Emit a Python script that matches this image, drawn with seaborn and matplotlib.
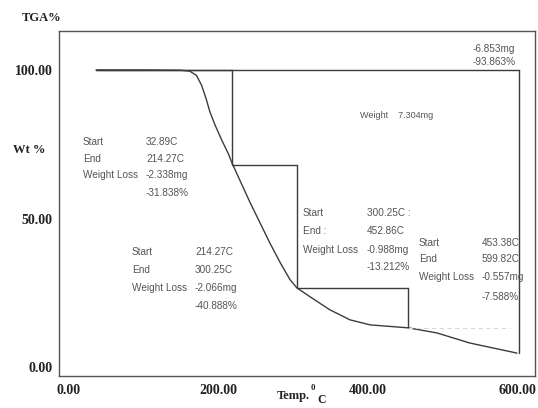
import numpy as np
import pandas as pd
import matplotlib
matplotlib.use("Agg")
import matplotlib.pyplot as plt
import seaborn as sns

# ---- data ----
temp = [37, 100, 150, 162, 171, 178, 184, 189, 196, 205, 214, 218, 225, 229, 243, 256,
        269, 283, 296, 305, 323, 349, 376, 403, 454, 492, 536, 599]
weight = [100, 100, 99.9, 99.6, 98.2, 94.8, 90.3, 85.9, 81.4, 76.3, 71.6, 69.0, 65.1, 62.9,
          55.2, 48.5, 41.8, 35.1, 29.4, 26.7, 23.6, 19.3, 15.9, 14.2, 13.2, 11.5, 8.1, 4.7]

# step analysis lines (start T, end T, start wt, end wt)
step_start_t = [37, 218, 305, 454]
step_end_t = [218, 305, 454, 602]
step_start_wt = [100, 67.9, 26.6, 13.2]
step_end_wt = [67.9, 26.6, 13.2, 4.7]
total_start_t, total_end_t = 37, 602
total_start_wt, total_end_wt = 100, 4.7

x_ticks = [0, 200, 400, 600]
x_ticklabels = ["0.00", "200.00", "400.00", "600.00"]
y_ticks = [0, 50, 100]
y_ticklabels = ["0.00", "50.00", "100.00"]

step_labels = [
    ["Start", "End", "Weight Loss"],
    ["Start", "End", "Weight Loss"],
    ["Start", "End :", "Weight Loss"],
    ["Start", "End", "Weight Loss"],
]
step_values = [
    ["32.89C", "214.27C", "-2.338mg", "-31.838%"],
    ["214.27C", "300.25C", "-2.066mg", "-40.888%"],
    ["300.25C :", "452.86C", "-0.988mg", "-13.212%"],
    ["453.38C", "599.82C", "-0.557mg", "-7.588%"],
]
total_texts = ["-6.853mg", "-93.863%"]
sample_text = "Weight    7.304mg"

# ---- plotting ----
sns.set_style("white")
W, H = 538, 408
fig = plt.figure(figsize=(W / 100, H / 100), dpi=100)
ax = fig.add_axes([59.3 / W, 1 - 375.7 / H, (535 - 59.3) / W, (375.7 - 31) / H])

line_c = "#3c3c3c"
df = pd.DataFrame({"temp": temp, "weight": weight})
sns.lineplot(data=df, x="temp", y="weight", ax=ax, color=line_c, lw=1.0, sort=False)

# step lines
for i in range(len(step_start_t)):
    if i < 3:
        ax.plot([step_start_t[i], step_end_t[i]], [step_start_wt[i], step_start_wt[i]],
                color=line_c, lw=1.0)
        ax.plot([step_end_t[i], step_end_t[i]], [step_start_wt[i], step_end_wt[i]],
                color=line_c, lw=1.0)
    else:
        ax.plot([step_start_t[i], step_end_t[i] - 12], [step_start_wt[i], step_start_wt[i]],
                color="#d8d8d8", lw=0.8, ls=(0, (4, 3)))
# total
ax.plot([total_start_t, total_end_t], [total_start_wt, total_start_wt], color=line_c, lw=1.0)
ax.plot([total_end_t, total_end_t], [total_start_wt, total_end_wt], color=line_c, lw=1.0)

ax.set_xlim(-12, 623)
ax.set_ylim(-2.9, 113.1)
ax.set_xlabel("")
ax.set_ylabel("")

serif = ["Liberation Serif", "DejaVu Serif"]
ax.set_xticks(x_ticks)
ax.set_xticklabels(x_ticklabels, fontfamily=serif, fontweight="bold", fontsize=10, color="#222222")
ax.set_yticks(y_ticks)
ax.set_yticklabels(y_ticklabels, fontfamily=serif, fontweight="bold", fontsize=10, color="#222222")
ax.tick_params(axis="x", direction="in", length=5, width=0.8, color="#444444", pad=6)
ax.tick_params(axis="y", direction="out", length=4, width=0.8, color="#444444", pad=1)
for s in ax.spines.values():
    s.set_visible(True)
    s.set_color("#555555")
    s.set_linewidth(1.0)

def fpos(x, y):
    return x / W, 1 - y / H

# axis titles
fig.text(*fpos(22, 18), "TGA%", fontfamily=serif, fontweight="bold", fontsize=9,
         color="#222222", va="center", ha="left")
fig.text(*fpos(13, 150), "Wt %", fontfamily=serif, fontweight="bold", fontsize=9,
         color="#222222", va="center", ha="left")
fig.text(*fpos(277, 396), "Temp.", fontfamily=serif, fontweight="bold", fontsize=9,
         color="#222222", va="center", ha="left")
fig.text(*fpos(311, 388), "0", fontfamily=serif, fontweight="bold", fontsize=6.5,
         color="#222222", va="center", ha="left")
fig.text(*fpos(317, 400), "C", fontfamily=serif, fontweight="bold", fontsize=8.5,
         color="#222222", va="center", ha="left")

# annotation blocks
sans = ["Liberation Sans", "DejaVu Sans"]
tc = "#555555"
fs = 7.2
label_x = [83, 132, 303, 419]
value_x = [146, 195, 367, 482]
rows_y = [[142, 159, 175, 193], [252, 270, 288, 306], [213, 231, 250, 267], [243, 259, 277, 297]]
for b in range(4):
    for r, lab in enumerate(step_labels[b]):
        fig.text(*fpos(label_x[b], rows_y[b][r]), lab, fontfamily=sans, fontsize=fs,
                 color=tc, va="center", ha="left")
    for r, val in enumerate(step_values[b]):
        fig.text(*fpos(value_x[b], rows_y[b][r]), val, fontfamily=sans, fontsize=fs,
                 color=tc, va="center", ha="left")

fig.text(*fpos(473, 49), total_texts[0], fontfamily=sans, fontsize=fs, color=tc,
         va="center", ha="left")
fig.text(*fpos(473, 62), total_texts[1], fontfamily=sans, fontsize=fs, color=tc,
         va="center", ha="left")
fig.text(*fpos(360, 116), sample_text, fontfamily=sans, fontsize=6.5, color=tc,
         va="center", ha="left")

fig.savefig("out.png", dpi=100)
